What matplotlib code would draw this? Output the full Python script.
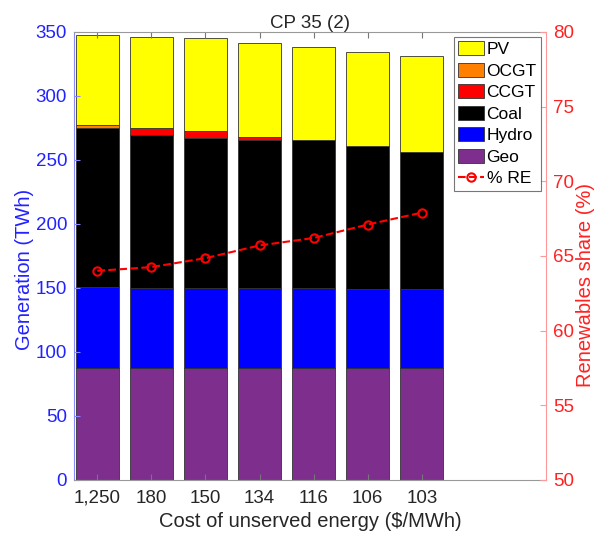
import numpy as np
import matplotlib
matplotlib.use("Agg")
import matplotlib.pyplot as plt

plt.rcParams['font.family'] = ['Liberation Sans', 'DejaVu Sans']

# data
costs = ['1,250', '180', '150', '134', '116', '106', '103']
geo = [87.2, 87.2, 87.2, 87.2, 87.2, 87.2, 87.2]
hydro = [63.3, 63.1, 62.8, 62.8, 62.8, 62.3, 62.1]
coal = [124.3, 119.1, 117.0, 115.5, 115.5, 111.4, 106.9]
ccgt = [0.0, 5.9, 5.2, 2.6, 0.3, 0.0, 0.0]
ocgt = [2.6, 0.0, 0.0, 0.0, 0.0, 0.0, 0.0]
pv = [70.1, 71.1, 72.8, 72.9, 72.7, 73.6, 74.8]
re_share = [64.0, 64.25, 64.85, 65.7, 66.2, 67.1, 67.9]

names = ['Geo', 'Hydro', 'Coal', 'CCGT', 'OCGT', 'PV']
series = [geo, hydro, coal, ccgt, ocgt, pv]
colours = ['#7E2F8E', '#0000FF', '#000000', '#FF0000', '#FF8000', '#FFFF00']

blue = '#2222FF'
red = '#FF2222'

fig = plt.figure(figsize=(5.97, 5.41), dpi=100)
ax = fig.add_axes([0.124, 0.113, 0.791, 0.828])
x = np.arange(1, len(costs) + 1)

bottom = np.zeros(len(costs))
handles = {}
for nm, vals, c in zip(names, series, colours):
    h = ax.bar(x, vals, 0.8, bottom=bottom, color=c, edgecolor='#333333',
               linewidth=0.6, label=nm)
    handles[nm] = h
    bottom += np.array(vals)

ax.set_xlim(0.57, 9.3)
ax.set_ylim(0, 350)
ax.set_xticks(x)
ax.set_xticklabels(costs)
ax.set_yticks(np.arange(0, 351, 50))
ax.set_xlabel('Cost of unserved energy ($/MWh)', fontsize=14.5,
              color='#262626', labelpad=4)
ax.set_ylabel('Generation (TWh)', fontsize=14.5, color=blue, labelpad=1)
ax.yaxis.label.set_y(0.47)
ax.set_title('CP 35 (2)', fontsize=13.5, color='#262626', pad=0)
ax.tick_params(axis='x', direction='in', top=True, labelsize=13.5,
               colors='#262626', length=4, color='#777777', pad=7)
ax.tick_params(axis='y', direction='in', labelsize=13.5, colors=blue,
               length=4, color='#8888FF', pad=5)
for s in ['top', 'bottom']:
    ax.spines[s].set_color('#999999')
ax.spines['left'].set_color('#8888FF')
ax.spines['right'].set_visible(False)

ax2 = ax.twinx()
ln, = ax2.plot(x, re_share, '--o', color='#FF0000', mfc='none', mew=1.5,
               ms=6, lw=1.5, label='% RE')
ax2.set_ylim(50, 80)
ax2.set_yticks(np.arange(50, 81, 5))
ax2.set_ylabel('Renewables share (%)', fontsize=14.5, color=red, labelpad=1)
ax2.yaxis.label.set_y(0.435)
ax2.tick_params(axis='y', direction='in', labelsize=13.5, colors=red,
                length=4, color='#FF9999', pad=5)
ax2.spines['right'].set_color('#FF9999')
for s in ['top', 'bottom', 'left']:
    ax2.spines[s].set_visible(False)

order = ['PV', 'OCGT', 'CCGT', 'Coal', 'Hydro', 'Geo']
leg = ax2.legend([handles[n] for n in order] + [ln], order + ['% RE'],
                 loc='upper right', fontsize=12.5, frameon=True, fancybox=False,
                 edgecolor='#555555', borderpad=0.25, labelspacing=0.32,
                 handlelength=1.5, handleheight=0.85, handletextpad=0.15,
                 borderaxespad=0.3)
leg.get_frame().set_linewidth(0.8)

fig.savefig('out.png', dpi=100)
